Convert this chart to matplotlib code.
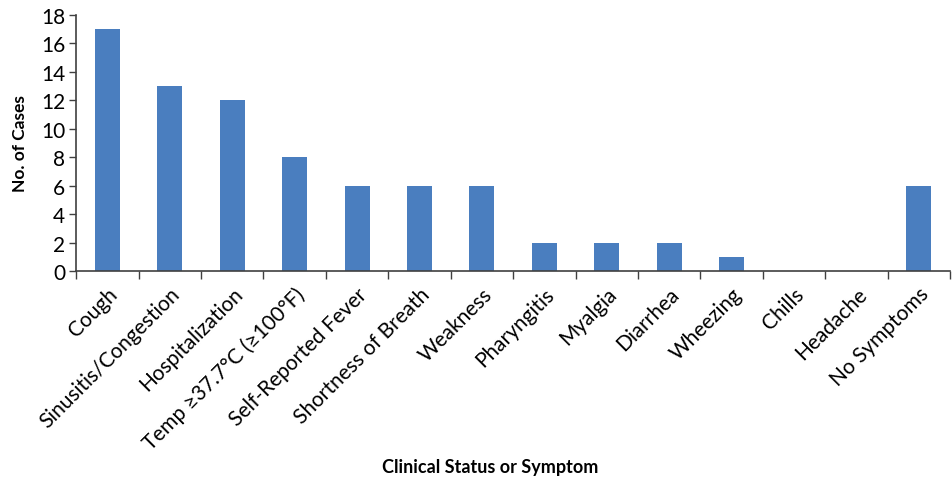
import numpy as np
import matplotlib
matplotlib.use("Agg")
import matplotlib.pyplot as plt

categories = ["Cough", "Sinusitis/Congestion", "Hospitalization",
              "Temp \u226537.7\u00b0C (\u2265100\u00b0F)", "Self-Reported Fever",
              "Shortness of Breath", "Weakness", "Pharyngitis", "Myalgia",
              "Diarrhea", "Wheezing", "Chills", "Headache", "No Symptoms"]
cases = [17, 13, 12, 8, 6, 6, 6, 2, 2, 2, 1, 0, 0, 6]
y_ticks = list(range(0, 19, 2))

plt.rcParams['font.family'] = ['Lato', 'DejaVu Sans']

fig = plt.figure(figsize=(9.52, 4.85), dpi=100)
ax = fig.add_axes([0.080, 0.439, 0.918, 0.528])

x = np.arange(len(categories))
ax.bar(x, cases, width=0.4, color="#4a7ebf", zorder=2)

ax.set_xlim(-0.5, len(categories) - 0.5)
ax.set_ylim(0, 18)
ax.set_yticks(y_ticks)
ax.tick_params(axis='y', labelsize=15, length=5, width=1, color="#404040", pad=3)

# category boundaries carry the tick marks, labels sit at bar centres
ax.set_xticks(np.arange(len(categories) + 1) - 0.5)
ax.set_xticklabels([])
ax.set_xticks(x, minor=True)
ax.set_xticklabels(categories, minor=True, rotation=45, ha='right',
                   rotation_mode='anchor', fontsize=15)
ax.tick_params(axis='x', which='major', length=6, width=1, color="#404040")
ax.tick_params(axis='x', which='minor', length=0, pad=9)

for s in ['top', 'right']:
    ax.spines[s].set_visible(False)
for s in ['left', 'bottom']:
    ax.spines[s].set_color("#404040")
    ax.spines[s].set_linewidth(1.2)

ax.set_ylabel("No. of Cases", fontsize=12.5, fontweight='bold', labelpad=9)
fig.text(0.515, 0.025, "Clinical Status or Symptom", ha='center',
         fontsize=13, fontweight='bold')

fig.savefig("out.png", dpi=100)
